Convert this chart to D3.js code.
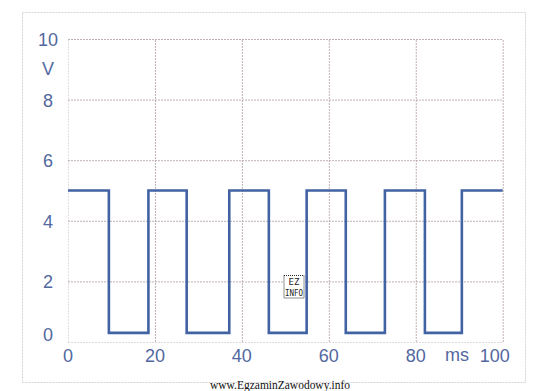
<!DOCTYPE html>
<html><head><meta charset="utf-8">
<script src="https://cdn.jsdelivr.net/npm/d3@7"></script>
<style>
html,body{margin:0;padding:0;background:#fff;}
svg{display:block;}
</style></head>
<body>
<script>
// Data: square wave, transition times (ms) and levels (V)
const transitionsMs = [9.4, 18.5, 27.3, 37.1, 46.2, 54.9, 63.9, 72.9, 82.1, 90.6];
const highV = 5;
const lowV = 0.3;
const startMs = 0, endMs = 100;
const xTicks = [0, 20, 40, 60, 80, 100];
const yTicks = [0, 2, 4, 6, 8, 10];
const xUnit = "ms";
const yUnit = "V";
const watermark = "www.EgzaminZawodowy.info";

const W = 560, H = 391;
const svg = d3.select("body").append("svg").attr("width", W).attr("height", H);

const m = {left: 68, right: 502.7, top: 39, bottom: 342};
const x = d3.scaleLinear().domain([0, 100]).range([m.left, m.right]);
const y = d3.scaleLinear().domain([0, 10]).range([m.bottom, m.top]);

const textColor = "#5268a0";
const gridColor = "#b5a3aa";

// outer frame
svg.append("rect").attr("x", 22.5).attr("y", 12.5).attr("width", 503).attr("height", 370)
  .attr("fill", "none").attr("stroke", "#d6d3d6").attr("stroke-width", 1).attr("stroke-dasharray", "2,1");

// grid via axes
const gx = svg.append("g").attr("transform", `translate(0,${m.bottom})`)
  .call(d3.axisBottom(x).tickValues(xTicks).tickSize(-(m.bottom - m.top)).tickFormat(""));
const gy = svg.append("g").attr("transform", `translate(${m.left},0)`)
  .call(d3.axisLeft(y).tickValues(yTicks).tickSize(-(m.right - m.left)).tickFormat(""));
[gx, gy].forEach(g => {
  g.select(".domain").remove();
  g.selectAll(".tick line").attr("stroke", gridColor).attr("stroke-width", 1)
    .attr("stroke-dasharray", "2,1").attr("opacity", 0.85);
});
// faint left/top/bottom edges
gy.selectAll(".tick").filter(d => d === 0).select("line").attr("stroke", "#d8d2d6");
gx.selectAll(".tick").filter(d => d === 0).select("line").attr("stroke", "#ddd8dc");

// tick labels
const fontFam = "'Liberation Sans', Arial, sans-serif";
svg.append("g").selectAll("text").data(xTicks).join("text")
  .attr("x", d => x(d) + (d === 100 ? -8 : (d === 40 ? 0 : 0)))
  .attr("y", 362)
  .attr("text-anchor", "middle")
  .attr("font-family", fontFam).attr("font-size", 18).attr("fill", textColor)
  .text(d => d);
svg.append("text").attr("x", 457).attr("y", 361).attr("text-anchor", "middle")
  .attr("font-family", fontFam).attr("font-size", 18).attr("fill", textColor).text(xUnit);

svg.append("g").selectAll("text").data(yTicks).join("text")
  .attr("x", 48)
  .attr("y", d => (d === 0 ? y(d) - 8 : y(d)) + 7)
  .attr("text-anchor", "middle")
  .attr("font-family", fontFam).attr("font-size", 18).attr("fill", textColor)
  .text(d => d);
svg.append("text").attr("x", 48).attr("y", 75).attr("text-anchor", "middle")
  .attr("font-family", fontFam).attr("font-size", 18).attr("fill", textColor).text(yUnit);

// square wave
const pts = [];
let level = highV;
pts.push([startMs, level]);
transitionsMs.forEach(t => {
  pts.push([t, level]);
  level = level === highV ? lowV : highV;
  pts.push([t, level]);
});
pts.push([endMs, level]);
const line = d3.line().x(d => x(d[0])).y(d => y(d[1]));
svg.append("path").datum(pts).attr("d", line)
  .attr("fill", "none").attr("stroke", "#4263a3").attr("stroke-width", 2.6)
  .attr("stroke-linejoin", "miter");

// EZ INFO stamp
const stamp = svg.append("g");
stamp.append("rect").attr("x", 284).attr("y", 275.5).attr("width", 20).attr("height", 22.5)
  .attr("fill", "#fff").attr("stroke", "#222").attr("stroke-width", 1).attr("stroke-dasharray", "1,1");
stamp.append("text").attr("x", 294).attr("y", 285).attr("text-anchor", "middle")
  .attr("font-family", "'DejaVu Sans Mono', monospace").attr("font-size", 9).attr("fill", "#222").text("EZ");
stamp.append("text").attr("x", 294).attr("y", 296).attr("text-anchor", "middle")
  .attr("font-family", "'DejaVu Sans Mono', monospace").attr("font-size", 8).attr("fill", "#222")
  .attr("textLength", 18).attr("lengthAdjust", "spacingAndGlyphs").text("INFO");

// watermark
svg.append("text").attr("x", 210).attr("y", 389)
  .attr("font-family", "'Liberation Serif', 'Times New Roman', serif").attr("font-size", 11.5)
  .attr("fill", "#111").attr("textLength", 140).attr("lengthAdjust", "spacingAndGlyphs")
  .text(watermark);
</script>
</body></html>
